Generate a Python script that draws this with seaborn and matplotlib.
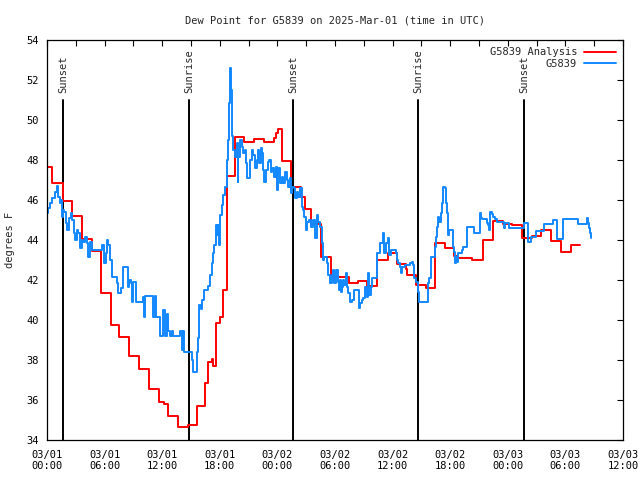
import numpy as np
import pandas as pd
import matplotlib
matplotlib.use("Agg")
import matplotlib.pyplot as plt
import matplotlib.dates as mdates
import seaborn as sns

# ---------------- data ----------------
start_time = "2025-03-01 00:00"

# analysis (red) step series: hours since start, value (deg F)
analysis_hours = [0.0, 0.55, 1.64, 2.64, 3.61, 4.66, 5.59, 6.64, 7.53, 8.57,
                  9.61, 10.59, 11.64, 12.19, 12.6, 13.65, 14.69, 15.59, 16.5, 16.75,
                  17.15, 17.3, 17.57, 18.02, 18.37, 18.72, 19.56, 20.52, 21.56, 22.6,
                  23.65, 23.9, 24.1, 24.48, 25.39, 26.42, 26.9, 27.46, 28.5, 29.55,
                  31.5, 32.43, 33.37, 34.41, 35.55, 36.49, 37.4, 37.55, 38.44, 39.48,
                  40.45, 41.49, 42.43, 42.68, 44.3, 45.45, 46.43, 47.47, 48.41, 49.45,
                  50.56, 51.43, 52.48, 53.58, 54.56, 55.5]
analysis_values = [47.65, 46.83, 45.93, 45.2, 44.07, 43.43, 41.33, 39.73, 39.17, 38.2,
                   37.53, 36.53, 35.9, 35.8, 35.2, 34.63, 34.77, 35.7, 36.83, 37.92,
                   38.05, 37.7, 39.83, 40.17, 41.5, 47.2, 49.13, 48.9, 49.03, 48.9,
                   49.1, 49.35, 49.53, 47.97, 46.67, 46.17, 45.53, 44.8, 43.13, 42.17,
                   41.83, 41.95, 41.7, 43.0, 43.33, 42.8, 42.57, 42.25, 41.75, 41.6,
                   43.83, 43.58, 43.2, 43.08, 43.0, 44.0, 44.97, 44.8, 44.73, 44.08,
                   44.2, 44.5, 43.97, 43.4, 43.73, 43.73]

# station observations (blue) step series
station_hours = [0.0, 0.14, 0.31, 0.55, 0.83, 1.07, 1.18, 1.32, 1.42, 1.53,
                 1.63, 1.77, 1.95, 2.12, 2.29, 2.5, 2.64, 2.78, 2.92, 3.09,
                 3.26, 3.44, 3.61, 3.78, 3.96, 4.13, 4.3, 4.48, 4.65, 5.76,
                 5.94, 6.11, 6.28, 6.39, 6.56, 6.74, 7.26, 7.43, 7.71, 7.95,
                 8.4, 8.54, 8.75, 8.89, 8.99, 9.27, 10.03, 10.1, 10.21, 11.07,
                 11.25, 11.35, 11.77, 12.12, 12.29, 12.47, 12.64, 12.81, 12.99, 13.16,
                 13.85, 14.03, 14.13, 14.27, 15.07, 15.24, 15.59, 15.76, 15.87, 16.0,
                 16.15, 16.35, 16.8, 16.98, 17.15, 17.26, 17.4, 17.6, 17.74, 17.85,
                 17.95, 18.02, 18.2, 18.36, 18.54, 18.72, 18.82, 18.99, 19.0, 19.06,
                 19.15, 19.22, 19.3, 19.41, 19.58, 19.76, 19.86, 19.93, 20.1, 20.28,
                 20.45, 20.62, 20.73, 20.87, 21.15, 21.32, 21.49, 21.67, 21.84, 22.01,
                 22.12, 22.29, 22.43, 22.53, 22.64, 22.78, 22.99, 23.13, 23.3, 23.47,
                 23.65, 23.82, 23.92, 24.1, 24.27, 24.44, 24.62, 24.79, 24.97, 25.14,
                 25.31, 25.42, 25.55, 25.73, 25.83, 26.0, 26.18, 26.35, 26.53, 26.63,
                 26.77, 26.94, 27.12, 27.29, 27.5, 27.74, 27.92, 28.09, 28.26, 28.44,
                 28.61, 28.72, 28.89, 29.13, 29.3, 29.48, 29.65, 29.82, 29.93, 30.1,
                 30.28, 30.42, 30.52, 30.63, 30.76, 30.87, 30.97, 31.11, 31.22, 31.39,
                 31.56, 31.8, 32.01, 32.5, 32.6, 32.78, 32.95, 33.13, 33.3, 33.4,
                 33.54, 33.72, 33.89, 34.34, 34.69, 35.03, 35.14, 35.28, 35.49, 35.63,
                 35.83, 36.32, 36.43, 36.6, 36.77, 36.88, 37.01, 37.29, 37.81, 37.99,
                 38.16, 38.26, 38.44, 38.61, 38.78, 39.66, 39.82, 40.0, 40.42, 40.52,
                 40.66, 40.76, 40.87, 41.01, 41.11, 41.22, 41.28, 41.42, 41.53, 41.63,
                 41.74, 41.81, 41.91, 42.26, 42.4, 42.5, 42.6, 42.68, 42.84, 43.2,
                 43.36, 43.72, 43.78, 44.48, 45.1, 45.2, 45.28, 45.8, 45.97, 46.07,
                 46.15, 46.32, 46.49, 46.7, 46.84, 47.6, 47.71, 48.13, 49.72, 50.14,
                 50.42, 50.94, 51.8, 52.67, 53.16, 53.72, 55.28, 56.22, 56.28, 56.39,
                 56.49, 56.6, 56.63]
station_values = [45.33, 45.58, 45.83, 46.08, 46.42, 46.7, 46.17, 45.83, 46.0, 45.17,
                  45.5, 45.4, 44.83, 44.5, 45.08, 45.33, 45.0, 44.33, 44.0, 44.5,
                  44.33, 43.58, 44.0, 43.92, 44.17, 43.83, 43.17, 43.92, 43.5, 43.75,
                  42.83, 43.33, 44.0, 43.75, 43.0, 42.17, 41.83, 41.33, 41.58, 42.67,
                  41.67, 42.0, 41.83, 40.92, 41.92, 40.92, 41.17, 40.17, 41.2, 40.17,
                  41.2, 40.17, 39.2, 40.5, 39.2, 40.3, 39.47, 39.2, 39.47, 39.2,
                  39.47, 38.5, 39.47, 38.42, 38.0, 37.42, 38.42, 39.08, 40.75, 40.55,
                  41.0, 41.5, 41.72, 42.25, 42.83, 43.33, 43.75, 44.75, 44.25, 44.75,
                  43.75, 45.25, 45.75, 46.25, 46.67, 48.0, 49.0, 50.0, 50.83, 52.58,
                  51.5, 50.2, 49.2, 48.5, 48.17, 48.83, 46.92, 48.17, 49.0, 48.67,
                  48.33, 48.5, 47.83, 47.08, 48.0, 48.5, 48.25, 47.58, 48.0, 48.5,
                  47.83, 48.58, 48.33, 47.5, 46.92, 47.5, 47.92, 48.0, 47.42, 47.58,
                  47.17, 47.67, 46.5, 47.58, 46.83, 47.17, 46.83, 47.42, 47.0, 46.67,
                  47.08, 46.33, 46.67, 46.58, 46.08, 46.42, 46.17, 46.58, 45.67, 45.5,
                  45.17, 44.5, 44.92, 45.0, 44.67, 45.0, 44.08, 45.25, 44.92, 44.67,
                  43.83, 43.0, 43.17, 42.83, 42.25, 41.83, 42.25, 42.5, 41.83, 42.5,
                  41.92, 41.5, 42.0, 41.42, 41.67, 42.0, 41.75, 42.33, 41.67, 41.33,
                  40.92, 41.0, 41.5, 40.58, 40.83, 41.0, 41.08, 41.67, 41.17, 42.33,
                  41.25, 41.67, 42.08, 43.33, 43.83, 44.33, 43.33, 43.83, 44.08, 43.25,
                  43.5, 43.33, 43.0, 42.83, 42.67, 42.33, 42.67, 42.75, 42.83, 42.92,
                  42.75, 42.08, 41.92, 41.42, 40.92, 41.83, 42.08, 43.17, 43.67, 44.17,
                  44.67, 45.17, 44.92, 45.33, 45.83, 46.25, 46.67, 46.58, 45.83, 45.33,
                  44.83, 44.25, 44.5, 43.67, 43.42, 42.83, 43.17, 42.92, 43.33, 43.5,
                  43.67, 44.17, 44.63, 44.33, 45.33, 45.1, 45.03, 44.87, 44.75, 44.5,
                  45.42, 45.3, 45.13, 45.03, 44.92, 44.58, 44.87, 44.58, 44.83, 43.92,
                  44.17, 44.47, 44.8, 45.0, 44.03, 45.03, 44.8, 44.87, 45.08, 44.83,
                  44.58, 44.33, 44.08]

event_hours = [1.67, 14.79, 25.63, 38.65, 49.69]
event_labels = ["Sunset", "Sunrise", "Sunset", "Sunrise", "Sunset"]

y_ticks = list(range(34, 55, 2))
title_text = "Dew Point for G5839 on 2025-Mar-01 (time in UTC)"
y_label = "degrees F"
series_labels = ["G5839 Analysis", "G5839"]

# ---------------- plot ----------------
sns.set_style("white")
plt.rcParams["font.family"] = ["DejaVu Sans Mono"]
FS = 7.5

red = "#ff0000"
blue = "#1188ff"

t0 = pd.Timestamp(start_time)
df_a = pd.DataFrame({"time": t0 + pd.to_timedelta(analysis_hours, unit="h"),
                     "value": analysis_values})
df_s = pd.DataFrame({"time": t0 + pd.to_timedelta(station_hours, unit="h"),
                     "value": station_values})

fig = plt.figure(figsize=(6.4, 4.8), dpi=100)
ax = fig.add_axes([47 / 640, 40 / 480, 576 / 640, 400 / 480])

sns.lineplot(data=df_a, x="time", y="value", ax=ax, color=red, lw=1.4,
             drawstyle="steps-post", estimator=None, label=series_labels[0])
sns.lineplot(data=df_s, x="time", y="value", ax=ax, color=blue, lw=1.4,
             drawstyle="steps-post", estimator=None, label=series_labels[1])

for h, lab in zip(event_hours, event_labels):
    t = t0 + pd.Timedelta(hours=h)
    ax.plot([t, t], [51.0, 34], color="black", lw=1.4, zorder=1)
    ax.text(t, 51.35, lab, rotation=90, ha="center", va="bottom", fontsize=FS)

ax.set_xlim(t0, t0 + pd.Timedelta(hours=60))
ax.set_ylim(34, 54)
ax.set_yticks(y_ticks)
ax.xaxis.set_major_locator(mdates.HourLocator(byhour=[0, 6, 12, 18]))
ax.xaxis.set_minor_locator(mdates.HourLocator(byhour=[3, 9, 15, 21]))
ax.xaxis.set_major_formatter(mdates.DateFormatter("%m/%d\n%H:%M"))

ax.tick_params(axis="both", which="both", direction="in", top=True, right=True,
               length=4, width=0.8, labelsize=FS, colors="black")
ax.tick_params(axis="y", pad=6)
ax.tick_params(axis="x", pad=7)
for sp in ax.spines.values():
    sp.set_visible(True)
    sp.set_color("black")
    sp.set_linewidth(0.9)

ax.set_xlabel("")
ax.set_ylabel(y_label, fontsize=FS, labelpad=8)
ax.set_title(title_text, fontsize=FS, pad=12)

leg = ax.legend(loc="upper right", frameon=False, markerfirst=False, fontsize=FS,
                handlelength=3.0, handletextpad=0.7, borderaxespad=0.3,
                labelspacing=0.15)
for t in leg.get_texts():
    t.set_ha("right")

fig.savefig("out.png", dpi=100, facecolor="white")
